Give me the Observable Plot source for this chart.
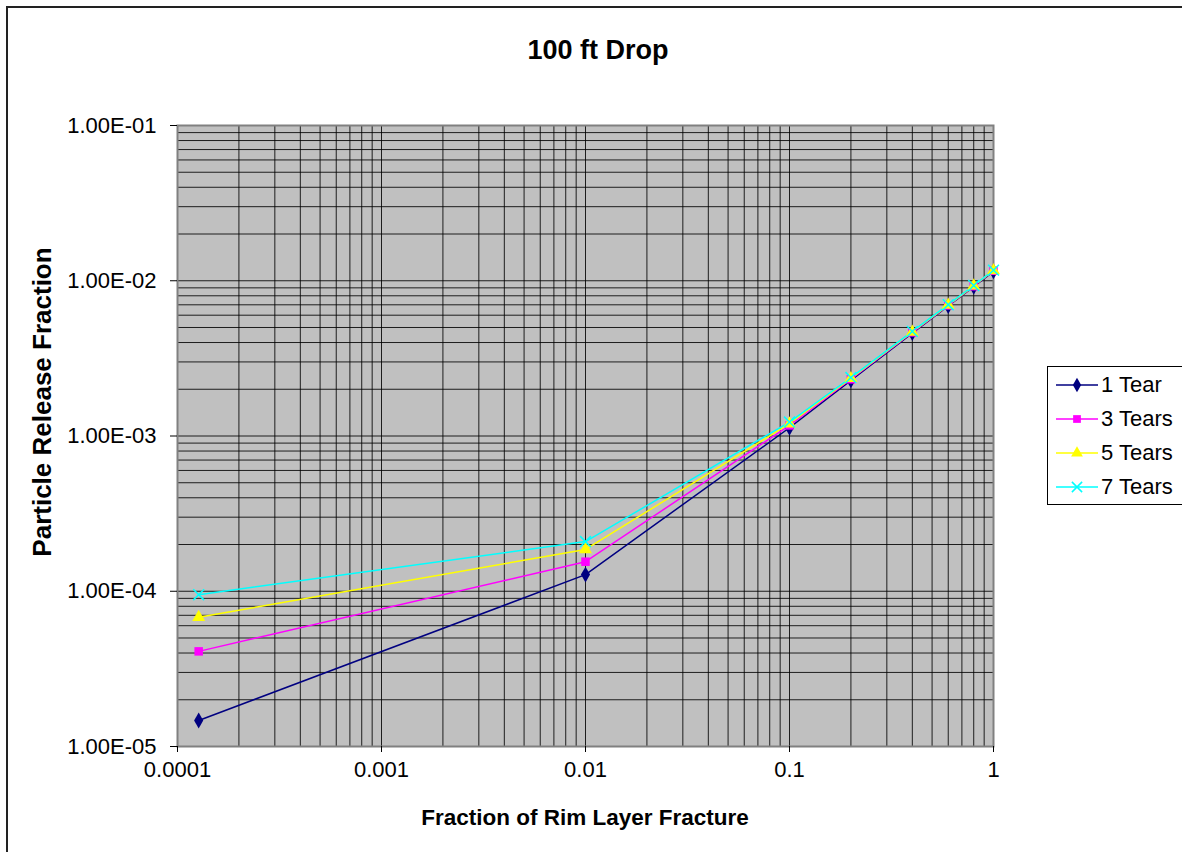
<!DOCTYPE html>
<html><head><meta charset="utf-8">
<script src="https://cdn.jsdelivr.net/npm/d3@7"></script>
<script src="https://cdn.jsdelivr.net/npm/@observablehq/plot@0.6"></script>
<style>
body{margin:0;background:#fff;font-family:"Liberation Sans",Arial,sans-serif;}
#wrap{position:relative;width:1182px;height:852px;overflow:hidden;background:#fff;}
#chart{position:absolute;left:0;top:0;}
#frame{position:absolute;left:6px;top:6px;width:1200px;height:880px;border:2px solid #222;box-sizing:border-box;pointer-events:none;}
#title{position:absolute;left:0;width:1196px;top:35px;text-align:center;font-weight:bold;font-size:27px;}
#xlabel{position:absolute;left:177px;width:816px;top:805px;text-align:center;font-weight:bold;font-size:22.5px;}
#ylabel{position:absolute;left:42px;top:402px;width:600px;margin-left:-300px;text-align:center;font-weight:bold;font-size:26px;transform:rotate(-90deg);transform-origin:center center;line-height:28px;margin-top:-14px;}
#legend{position:absolute;left:1047px;top:366px;width:140px;height:139px;border:1px solid #000;box-sizing:border-box;background:#fff;padding-top:1px;}
.item{display:flex;align-items:center;height:34px;font-size:22px;}
.item svg{margin-left:8px;margin-right:3px;}
</style></head>
<body>
<div id="wrap">
  <div id="chart"></div>
  <div id="title">100 ft Drop</div>
  <div id="xlabel">Fraction of Rim Layer Fracture</div>
  <div id="ylabel">Particle Release Fraction</div>
  <div id="legend"></div>
  <div id="frame"></div>
</div>
<script>
const xValues = [0.000127, 0.01, 0.1, 0.2, 0.4, 0.6, 0.8, 1];
const seriesNames = ["1 Tear", "3 Tears", "5 Tears", "7 Tears"];
const tear1 = [1.47e-5, 1.28e-4, 1.13e-3, 2.28e-3, 4.60e-3, 6.88e-3, 9.15e-3, 1.15e-2];
const tear3 = [4.1e-5, 1.55e-4, 1.17e-3, 2.32e-3, 4.65e-3, 6.93e-3, 9.22e-3, 1.16e-2];
const tear5 = [6.8e-5, 1.86e-4, 1.20e-3, 2.35e-3, 4.68e-3, 6.97e-3, 9.28e-3, 1.165e-2];
const tear7 = [9.5e-5, 2.09e-4, 1.23e-3, 2.38e-3, 4.72e-3, 7.01e-3, 9.32e-3, 1.17e-2];
const seriesColors = ["#000080", "#FF00FF", "#FFFF00", "#00FFFF"];
const seriesSymbols = ["diamond", "square", "triangle", "times"];
const xTicks = [0.0001, 0.001, 0.01, 0.1, 1];
const xTickLabels = ["0.0001", "0.001", "0.01", "0.1", "1"];
const yTicks = [1e-5, 1e-4, 1e-3, 1e-2, 1e-1];
const yTickLabels = ["1.00E-05", "1.00E-04", "1.00E-03", "1.00E-02", "1.00E-01"];

const seriesValues = [tear1, tear3, tear5, tear7];
const rows = [];
seriesNames.forEach((s, i) => xValues.forEach((x, j) => rows.push({series: s, x, y: seriesValues[i][j]})));

function logGrid(lo, hi) {
  const out = [];
  for (let d = lo; d < hi; d++) for (let k = 1; k <= 9; k++) out.push(k * Math.pow(10, d));
  out.push(Math.pow(10, hi));
  return out;
}
const xGrid = logGrid(-4, 0);
const yGrid = logGrid(-5, -1);

const marks = [
  Plot.frame({fill: "#C0C0C0"}),
  Plot.ruleX(xGrid, {stroke: "#000", strokeWidth: 1, strokeOpacity: 0.85}),
  Plot.ruleY(yGrid, {stroke: "#000", strokeWidth: 1, strokeOpacity: 0.85}),
  Plot.frame({stroke: "#808080", strokeWidth: 2}),
  Plot.axisX({ticks: xTicks, tickFormat: (d) => xTickLabels[xTicks.indexOf(d)], tickSize: 6, tickPadding: 9, label: null, fontSize: 22, stroke: "#000"}),
  Plot.axisY({ticks: yTicks, tickFormat: (d) => yTickLabels[yTicks.indexOf(d)], tickSize: 7, tickPadding: 14, label: null, fontSize: 22, stroke: "#000"}),
  Plot.line(rows, {x: "x", y: "y", stroke: "series", strokeWidth: 1.5})
];
seriesNames.forEach((s, i) => {
  const data = rows.filter(r => r.series === s);
  if (seriesSymbols[i] === "times") {
    marks.push(Plot.dot(data, {x: "x", y: "y", symbol: () => "times", r: 5, stroke: seriesColors[i], strokeWidth: 1.5}));
  } else {
    marks.push(Plot.dot(data, {x: "x", y: "y", symbol: () => seriesSymbols[i], r: 4.8, fill: seriesColors[i], stroke: "none"}));
  }
});

const chart = Plot.plot({
  width: 1182, height: 852,
  marginLeft: 177, marginRight: 189, marginTop: 125, marginBottom: 106,
  x: {type: "log", domain: [1e-4, 1]},
  y: {type: "log", domain: [1e-5, 1e-1]},
  color: {domain: seriesNames, range: seriesColors},
  symbol: {domain: ["diamond","square","triangle","times"], range: ["diamond","square","triangle","times"]},
  style: {fontFamily: '"Liberation Sans", Arial, sans-serif', background: "transparent", color: "#000"},
  marks
});
document.getElementById("chart").appendChild(chart);

// legend
const legend = d3.select("#legend");
const symMap = {diamond: d3.symbolDiamond, square: d3.symbolSquare, triangle: d3.symbolTriangle, times: d3.symbolTimes};
seriesNames.forEach((s, i) => {
  const item = legend.append("div").attr("class", "item");
  const svg = item.append("svg").attr("width", 42).attr("height", 20);
  svg.append("line").attr("x1", 0).attr("x2", 42).attr("y1", 10).attr("y2", 10).attr("stroke", seriesColors[i]).attr("stroke-width", 1.5);
  const sym = seriesSymbols[i];
  const p = svg.append("path").attr("transform", "translate(21,10)")
    .attr("d", d3.symbol(symMap[sym], sym === "times" ? 70 : 60)());
  if (sym === "times") p.attr("fill", "none").attr("stroke", seriesColors[i]).attr("stroke-width", 1.5);
  else p.attr("fill", seriesColors[i]);
  item.append("span").text(s);
});
</script>
</body></html>
